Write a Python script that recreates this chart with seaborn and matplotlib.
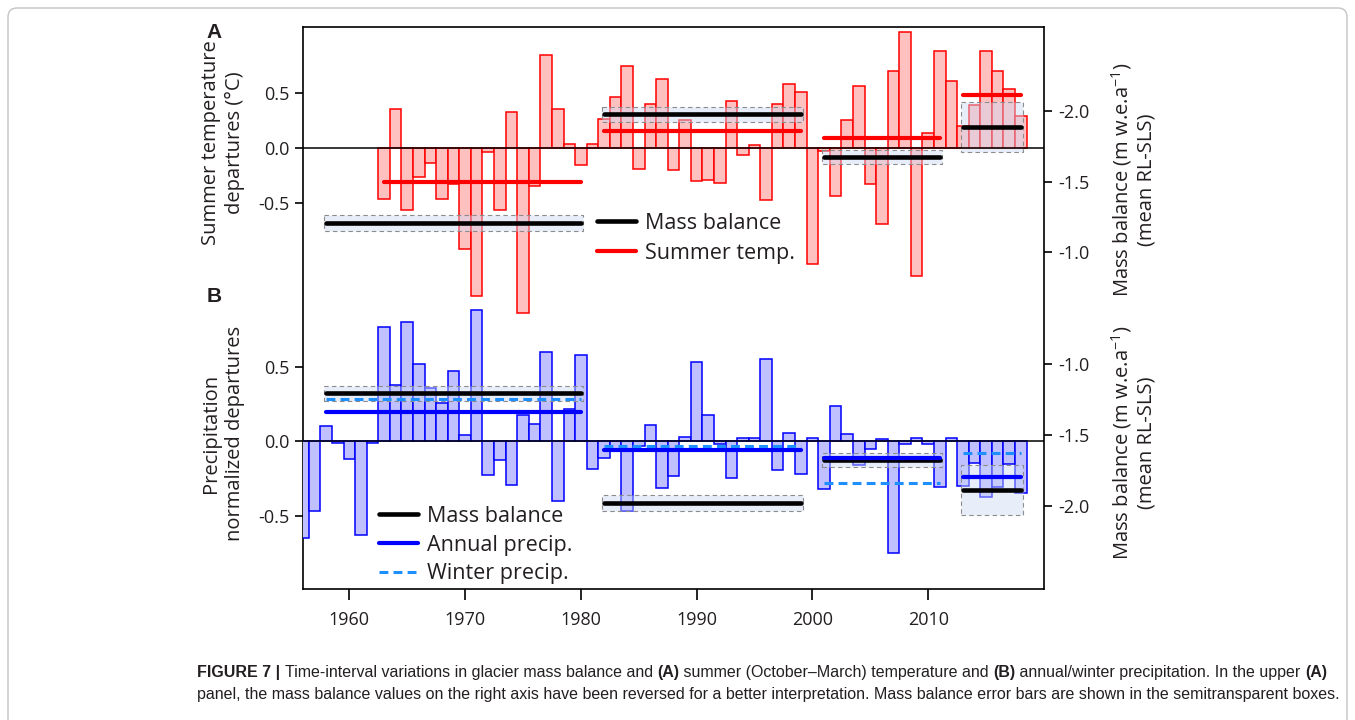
import numpy as np
import pandas as pd
import matplotlib
matplotlib.use("Agg")
import matplotlib.pyplot as plt
import seaborn as sns
from matplotlib.lines import Line2D
from matplotlib.patches import Rectangle, FancyBboxPatch
from matplotlib.transforms import IdentityTransform
from matplotlib import font_manager

# ---------------- data ----------------
temp_years = list(range(1963, 2019))
temp_dep = [-0.47, 0.35, -0.57, -0.27, -0.14, -0.47, -0.33, -0.92, -1.35, -0.04,
            -0.57, 0.32, -1.50, -0.35, 0.84, 0.35, 0.03, -0.16, 0.03, 0.26,
            0.46, 0.74, -0.19, 0.40, 0.62, -0.20, 0.25, -0.30, -0.295, -0.32,
            0.42, -0.07, 0.02, -0.48, 0.40, 0.58, 0.51, -1.06, -0.03, -0.44,
            0.25, 0.56, -0.33, -0.69, 0.70, 1.05, -1.17, 0.13, 0.88, 0.61,
            0.20, 0.39, 0.88, 0.70, 0.53, 0.29]

precip_years = list(range(1956, 2019))
precip_dep = [-0.65, -0.465, 0.10, -0.013, -0.12, -0.63, -0.013, 0.77, 0.38, 0.80,
              0.52, 0.355, 0.26, 0.47, 0.04, 0.88, -0.225, -0.125, -0.29, 0.18,
              0.115, 0.60, -0.40, 0.22, 0.58, -0.185, -0.11, -0.05, -0.465, -0.03,
              0.11, -0.315, -0.235, 0.03, 0.53, 0.18, -0.015, -0.246, 0.025, 0.022,
              0.555, -0.19, 0.058, -0.22, 0.022, -0.318, 0.237, 0.05, -0.16, -0.05,
              0.018, -0.747, -0.016, 0.025, -0.02, -0.306, 0.025, -0.30, -0.145, -0.374,
              -0.306, -0.15, -0.345]

period_start = [1958, 1982, 2001, 2013]
period_end = [1980, 1999, 2011, 2018]
temp_period_start = [1963, 1982, 2001, 2013]
mass_balance = [-1.21, -1.98, -1.68, -1.89]
mass_balance_err = [0.055, 0.055, 0.05, 0.175]
temp_period_mean = [-0.31, 0.155, 0.085, 0.48]
annual_precip_mean = [0.195, -0.057, -0.115, -0.242]
winter_precip_mean = [0.283, -0.029, -0.28, -0.078]

xticks = [1960, 1970, 1980, 1990, 2000, 2010]
left_ticks = [-0.5, 0.0, 0.5]
mb_ticks = [-2.0, -1.5, -1.0]

# ---------------- style ----------------
sns.set_theme(style="white")
plt.rcParams["font.family"] = ["Open Sans", "DejaVu Sans"]
plt.rcParams["axes.unicode_minus"] = False
plt.rcParams["mathtext.default"] = "regular"

TXT = "#231f20"
RED = "#ff0000"
RED_FILL = "#ffc0c0"
BLUE = "#0000ff"
BLUE_FILL = "#c0c0ff"
WBLUE = "#1e8fff"
BOX_FACE = (0.80, 0.85, 0.96, 0.45)
BOX_EDGE = "#8c8c8c"

W, H = 1355, 720
fig = plt.figure(figsize=(W / 100, H / 100), dpi=100)


def fx(x):
    return x / W


def fy(y):
    return 1 - y / H


rect = [fx(303), fy(589), fx(1044) - fx(303), fy(27) - fy(589)]
ax_t = fig.add_axes(rect, label="top")
ax_tr = fig.add_axes(rect, label="top_right")
ax_b = fig.add_axes(rect, label="bottom")
ax_br = fig.add_axes(rect, label="bottom_right")
for a in (ax_tr, ax_b, ax_br):
    a.patch.set_visible(False)

XLIM = (1956, 2020)
PAD = 0.17

# ---------------- panel A ----------------
sns.barplot(x=temp_years, y=temp_dep, native_scale=True, width=1.0, orient="x",
            color=RED_FILL, edgecolor=RED, linewidth=1.1, saturation=1,
            errorbar=None, ax=ax_t, zorder=1)
ax_t.axhline(0, color="black", lw=1.1, zorder=4)
for s, e, mb, err in zip(period_start, period_end, mass_balance, mass_balance_err):
    ax_t.add_patch(Rectangle((s - PAD, mb - err), (e - s) + 2 * PAD, 2 * err,
                             transform=ax_tr.transData, facecolor=BOX_FACE,
                             edgecolor=BOX_EDGE, lw=0.8, linestyle=(0, (4, 3)), zorder=2))
ax_t.hlines(temp_period_mean, temp_period_start, period_end, colors=RED, lw=3.0,
            capstyle="round", zorder=5)
ax_t.hlines(mass_balance, period_start, period_end, colors="black", lw=3.3,
            capstyle="round", transform=ax_tr.transData, zorder=6)

h_top = [Line2D([], [], color="black", lw=3.3, solid_capstyle="round"),
         Line2D([], [], color=RED, lw=3.0, solid_capstyle="round")]
ax_t.legend(h_top, ["Mass balance", "Summer temp."], loc="upper left",
            bbox_to_anchor=(fx(597), fy(213)), bbox_transform=fig.transFigure,
            frameon=False, fontsize=15.5, handlelength=1.8, handletextpad=0.45,
            labelspacing=0.41, borderpad=0, borderaxespad=0, labelcolor=TXT)

# ---------------- panel B ----------------
sns.barplot(x=precip_years, y=precip_dep, native_scale=True, width=1.0, orient="x",
            color=BLUE_FILL, edgecolor=BLUE, linewidth=1.1, saturation=1,
            errorbar=None, ax=ax_b, zorder=1)
ax_b.axhline(0, color="black", lw=1.1, zorder=4)
for s, e, mb, err in zip(period_start, period_end, mass_balance, mass_balance_err):
    ax_b.add_patch(Rectangle((s - PAD, mb - err), (e - s) + 2 * PAD, 2 * err,
                             transform=ax_br.transData, facecolor=BOX_FACE,
                             edgecolor=BOX_EDGE, lw=0.8, linestyle=(0, (4, 3)), zorder=2))
ax_b.hlines(mass_balance, period_start, period_end, colors="black", lw=3.3,
            capstyle="round", transform=ax_br.transData, zorder=5)
ax_b.hlines(annual_precip_mean, period_start, period_end, colors=BLUE, lw=3.0,
            capstyle="round", zorder=6)
ax_b.hlines(winter_precip_mean, period_start, period_end, colors=WBLUE, lw=2.2,
            linestyles=[(0, (2.9, 1.7))], zorder=7)

h_bot = [Line2D([], [], color="black", lw=3.3, solid_capstyle="round"),
         Line2D([], [], color=BLUE, lw=3.0, solid_capstyle="round"),
         Line2D([], [], color=WBLUE, lw=2.2, linestyle=(0, (2.9, 1.7)))]
ax_b.legend(h_bot, ["Mass balance", "Annual precip.", "Winter precip."], loc="upper left",
            bbox_to_anchor=(fx(379), fy(506)), bbox_transform=fig.transFigure,
            frameon=False, fontsize=15.5, handlelength=1.8, handletextpad=0.45,
            labelspacing=0.36, borderpad=0, borderaxespad=0, labelcolor=TXT)

# ---------------- axes / ticks ----------------
ax_t.set_ylim(-4.012, 1.097)
ax_tr.set_ylim(1.387, -2.599)
ax_b.set_ylim(-0.991, 2.781)
ax_br.set_ylim(-2.587, 1.371)
for a in (ax_t, ax_tr, ax_b, ax_br):
    a.set_xlim(*XLIM)
    a.set_xlabel("")
    a.set_ylabel("")
    a.grid(False)

ax_t.set_xticks(xticks)
ax_t.set_xticklabels([str(x) for x in xticks])
ax_t.tick_params(axis="x", bottom=True, top=False, direction="out", length=8, width=1.2,
                 pad=8, labelsize=13, colors="black", labelcolor=TXT)
for a in (ax_tr, ax_b, ax_br):
    a.tick_params(axis="x", bottom=False, top=False, labelbottom=False)
    for sp in a.spines.values():
        sp.set_visible(False)

for a in (ax_t, ax_b):
    a.set_yticks(left_ticks)
    a.set_yticklabels([f"{v:.1f}" for v in left_ticks])
    a.tick_params(axis="y", left=True, right=False, direction="out", length=6, width=1.2,
                  pad=4, labelsize=13, colors="black", labelcolor=TXT)
for a in (ax_tr, ax_br):
    a.yaxis.tick_right()
    a.set_yticks(mb_ticks)
    a.set_yticklabels([f"{v:.1f}" for v in mb_ticks])
    a.tick_params(axis="y", left=False, right=True, labelleft=False, labelright=True,
                  direction="out", length=6, width=1.2, pad=4, labelsize=13,
                  colors="black", labelcolor=TXT)

for sp in ax_t.spines.values():
    sp.set_visible(True)
    sp.set_color("black")
    sp.set_linewidth(1.2)

# ---------------- labels ----------------
fig.text(fx(223), fy(143), "Summer temperature\ndepartures (\u00b0C)", rotation=90,
         ha="center", va="center", multialignment="center", fontsize=14.5, color=TXT,
         linespacing=1.3)
fig.text(fx(223), fy(433), "Precipitation\nnormalized departures", rotation=90,
         ha="center", va="center", multialignment="center", fontsize=14.5, color=TXT,
         linespacing=1.3)
fig.text(fx(1133), fy(180), "Mass balance (m w.e.a$^{-1}$)\n(mean RL-SLS)", rotation=90,
         ha="center", va="center", multialignment="center", fontsize=14.5, color=TXT,
         linespacing=1.2)
fig.text(fx(1133), fy(443), "Mass balance (m w.e.a$^{-1}$)\n(mean RL-SLS)", rotation=90,
         ha="center", va="center", multialignment="center", fontsize=14.5, color=TXT,
         linespacing=1.2)
fig.text(fx(214), fy(33), "A", ha="center", va="center", fontsize=15, fontweight="bold",
         family=["Liberation Sans", "DejaVu Sans"], color=TXT)
fig.text(fx(214), fy(296), "B", ha="center", va="center", fontsize=15, fontweight="bold",
         family=["Liberation Sans", "DejaVu Sans"], color=TXT)

# ---------------- frame ----------------
fig.add_artist(FancyBboxPatch((8, 720 - 760), 1339, 752,
                              boxstyle="round,pad=0,rounding_size=9",
                              transform=IdentityTransform(), fill=False,
                              edgecolor="#c4c4c4", lw=1.0))

# ---------------- caption ----------------
names = {f.name for f in font_manager.fontManager.ttflist}
cap_family = "Liberation Sans Narrow" if "Liberation Sans Narrow" in names else "Liberation Sans"
line1 = [("FIGURE 7 | ", "bold"),
         ("Time-interval variations in glacier mass balance and ", "normal"),
         ("(A)", "bold"),
         (" summer (October\u2013March) temperature and ", "normal"),
         ("(B)", "bold"),
         (" annual/winter precipitation. In the upper ", "normal"),
         ("(A)", "bold")]
line2 = [("panel, the mass balance values on the right axis have been reversed for a "
          "better interpretation. Mass balance error bars are shown in the semitransparent boxes.",
          "normal")]
renderer = fig.canvas.get_renderer()


def text_width(s, weight, size):
    t = fig.text(0, 0, "|" + s + "|", fontsize=size, fontweight=weight, family=cap_family)
    t2 = fig.text(0, 0, "||", fontsize=size, fontweight=weight, family=cap_family)
    w = t.get_window_extent(renderer).width - t2.get_window_extent(renderer).width
    t.remove()
    t2.remove()
    return w


base = 12.0
tot = sum(text_width(s, w, base) for s, w in line1)
cap_size = base * (1330 - 197) / tot


def draw_line(pieces, y):
    x = 197.0
    for s, w in pieces:
        fig.text(fx(x), fy(y), s, fontsize=cap_size, fontweight=w, family=cap_family,
                 color=TXT, ha="left", va="center")
        x += text_width(s, w, cap_size)


draw_line(line1, 672)
draw_line(line2, 695)

fig.savefig("out.png", dpi=100)
